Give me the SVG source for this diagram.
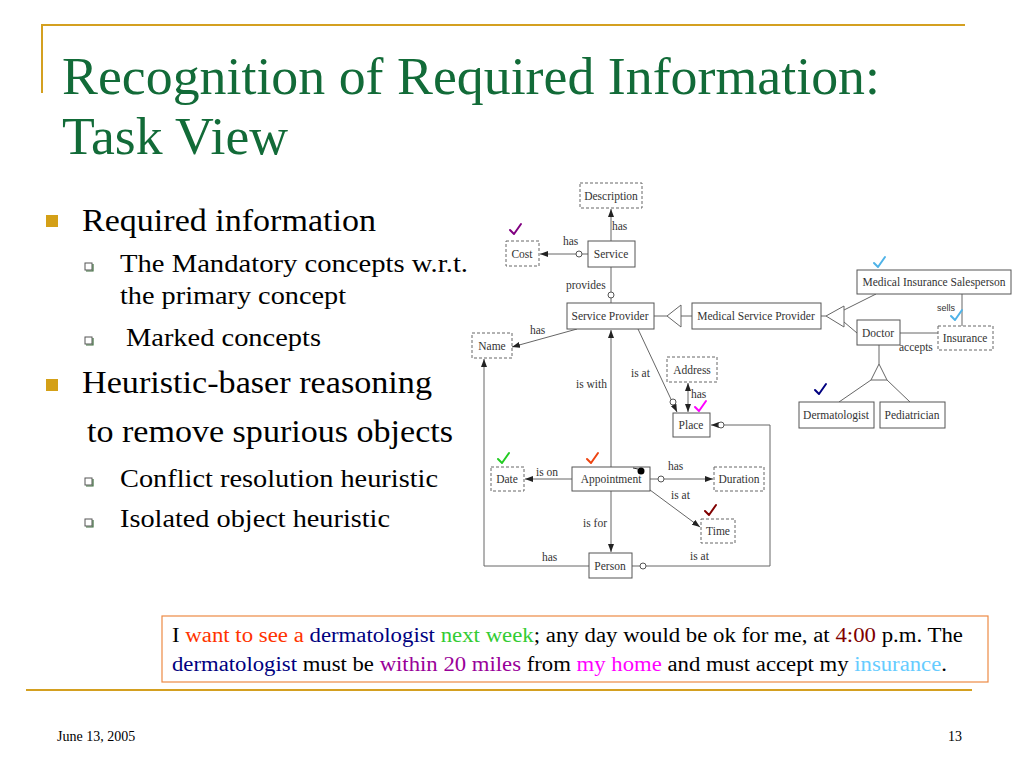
<svg xmlns="http://www.w3.org/2000/svg" width="1024" height="768" viewBox="0 0 1024 768">
<style>
.title{font-family:"Liberation Serif",serif;font-size:53px;fill:#126b38}
.b1{font-family:"Liberation Serif",serif;font-size:31px;fill:#000}
.b2{font-family:"Liberation Serif",serif;font-size:26px;fill:#000}
.box{font-family:"Liberation Serif",serif;font-size:20px;fill:#000}
.foot{font-family:"Liberation Serif",serif;font-size:14px;fill:#000}
.nd{fill:#fff;stroke:#555;stroke-width:1}
.nd-d{fill:#fff;stroke:#666;stroke-width:1;stroke-dasharray:3 2}
.nt{font-family:"Liberation Serif",serif;font-size:11.5px;fill:#333;text-anchor:middle}
.el{font-family:"Liberation Serif",serif;font-size:11.5px;fill:#333}
.ln{fill:none;stroke:#666;stroke-width:1}
.ci{fill:#fff;stroke:#555;stroke-width:1}
.tri{fill:#fff;stroke:#666;stroke-width:1}
.ck{fill:none;stroke-width:2;stroke-linecap:round;stroke-linejoin:round}
.gold{stroke:#d4a020;stroke-width:2;fill:none}
</style>
<defs>
<marker id="arr" viewBox="0 0 8 6" refX="8" refY="3" markerWidth="8" markerHeight="6" markerUnits="userSpaceOnUse" orient="auto-start-reverse">
<path d="M0,0 L8,3 L0,6 z" fill="#222"/>
</marker>
<path id="ck" d="M-5,0 L-1,4 L6,-6"/>
<g id="sb"><rect x="0" y="0" width="7" height="7" fill="#fff" stroke="#555" stroke-width="1"/><path d="M1,8 L8,8 L8,1" stroke="#3f6b3f" stroke-width="1.2" fill="none"/></g>
</defs>
<rect width="1024" height="768" fill="#fff"/>

<!-- frame lines -->
<path class="gold" d="M42,93 L42,25 L965,25"/>
<line class="gold" x1="26" y1="690" x2="972" y2="690" stroke-width="2.5"/>

<!-- title -->
<text class="title" x="62" y="94" textLength="818" lengthAdjust="spacingAndGlyphs">Recognition of Required Information:</text>
<text class="title" x="62" y="154" textLength="226" lengthAdjust="spacingAndGlyphs">Task View</text>

<!-- bullets -->
<rect x="46" y="215" width="12" height="12" fill="#d4a017"/>
<text class="b1" x="82" y="231" textLength="294" lengthAdjust="spacingAndGlyphs">Required information</text>
<use href="#sb" x="85" y="263"/>
<text class="b2" x="120" y="272" textLength="348" lengthAdjust="spacingAndGlyphs">The Mandatory concepts w.r.t.</text>
<text class="b2" x="120" y="304" textLength="226" lengthAdjust="spacingAndGlyphs">the primary concept</text>
<use href="#sb" x="85" y="337"/>
<text class="b2" x="126" y="346" textLength="195" lengthAdjust="spacingAndGlyphs">Marked concepts</text>
<rect x="46" y="379" width="12" height="12" fill="#d4a017"/>
<text class="b1" x="82" y="393" textLength="350" lengthAdjust="spacingAndGlyphs">Heuristic-baser reasoning</text>
<text class="b1" x="87" y="442" textLength="366" lengthAdjust="spacingAndGlyphs">to remove spurious objects</text>
<use href="#sb" x="85" y="478"/>
<text class="b2" x="120" y="487" textLength="318" lengthAdjust="spacingAndGlyphs">Conflict resolution heuristic</text>
<use href="#sb" x="85" y="519"/>
<text class="b2" x="120" y="527" textLength="270" lengthAdjust="spacingAndGlyphs">Isolated object heuristic</text>

<!-- connectors -->
<g id="connectors">
<line class="ln" x1="611" y1="241" x2="611" y2="209" marker-end="url(#arr)"/>
<line class="ln" x1="588" y1="254" x2="540" y2="254" marker-end="url(#arr)"/>
<circle class="ci" cx="579" cy="254" r="3"/>
<line class="ln" x1="611" y1="267" x2="611" y2="303"/>
<circle class="ci" cx="611" cy="295" r="3"/>
<line class="ln" x1="654" y1="316" x2="667" y2="316"/>
<polygon class="tri" points="667,316 681,305 681,327"/>
<line class="ln" x1="681" y1="316" x2="692" y2="316"/>
<line class="ln" x1="821" y1="316" x2="826" y2="316"/>
<polygon class="tri" points="826,316 844,306 844,327"/>
<line class="ln" x1="844" y1="310" x2="876" y2="294"/>
<line class="ln" x1="844" y1="322" x2="857" y2="333"/>
<line class="ln" x1="962" y1="294" x2="962" y2="326"/>
<line class="ln" x1="900" y1="333" x2="938" y2="333"/>
<line class="ln" x1="879" y1="345" x2="879" y2="364"/>
<polygon class="tri" points="879,364 871,380 887,380"/>
<line class="ln" x1="871" y1="380" x2="839" y2="402"/>
<line class="ln" x1="887" y1="380" x2="910" y2="402"/>
<line class="ln" x1="577" y1="329" x2="512" y2="347" marker-end="url(#arr)"/>
<polyline class="ln" points="589,566 484,566 484,359" marker-end="url(#arr)"/>
<line class="ln" x1="611" y1="467" x2="611" y2="330" marker-end="url(#arr)"/>
<line class="ln" x1="638" y1="329" x2="677" y2="412" marker-end="url(#arr)"/>
<circle class="ci" cx="673" cy="402" r="3"/>
<line class="ln" x1="688" y1="412" x2="688" y2="383" marker-start="url(#arr)" marker-end="url(#arr)"/>
<polyline class="ln" points="632,566 770,566 770,425 711,425" marker-end="url(#arr)"/>
<circle class="ci" cx="643" cy="566" r="3"/>
<circle class="ci" cx="721" cy="425" r="3"/>
<line class="ln" x1="572" y1="479" x2="525" y2="479" marker-end="url(#arr)"/>
<line class="ln" x1="650" y1="479" x2="713" y2="479" marker-end="url(#arr)"/>
<circle class="ci" cx="661" cy="479" r="3"/>
<line class="ln" x1="650" y1="490" x2="700" y2="527" marker-end="url(#arr)"/>
<line class="ln" x1="611" y1="491" x2="611" y2="552" marker-end="url(#arr)"/>
<!-- edge labels -->
<text class="el" x="612" y="230">has</text>
<text class="el" x="563" y="245">has</text>
<text class="el" x="566" y="289">provides</text>
<text class="el" x="937" y="311" style="font-family:'Liberation Sans',sans-serif;font-size:9px">sells</text>
<text class="el" x="899" y="351">accepts</text>
<text class="el" x="530" y="334">has</text>
<text class="el" x="631" y="377">is at</text>
<text class="el" x="576" y="388">is with</text>
<text class="el" x="691" y="398">has</text>
<text class="el" x="536" y="476">is on</text>
<text class="el" x="668" y="470">has</text>
<text class="el" x="671" y="499">is at</text>
<text class="el" x="583" y="527">is for</text>
<text class="el" x="542" y="561">has</text>
<text class="el" x="690" y="560">is at</text>
</g>

<!-- nodes -->
<g id="description"><rect class="nd-d" x="580" y="183" width="62" height="25"/><text class="nt" x="611" y="200">Description</text></g>
<g id="service"><rect class="nd" x="588" y="241" width="47" height="26"/><text class="nt" x="611" y="258">Service</text></g>
<g id="cost"><rect class="nd-d" x="506" y="241" width="33" height="25"/><text class="nt" x="522" y="258">Cost</text></g>
<g id="service-provider"><rect class="nd" x="567" y="303" width="87" height="26"/><text class="nt" x="610" y="320">Service Provider</text></g>
<g id="medical-service-provider"><rect class="nd" x="692" y="303" width="129" height="26"/><text class="nt" x="756" y="320">Medical Service Provider</text></g>
<g id="medical-insurance-salesperson"><rect class="nd" x="857" y="270" width="154" height="24"/><text class="nt" x="934" y="286">Medical Insurance Salesperson</text></g>
<g id="doctor"><rect class="nd" x="857" y="320" width="43" height="25"/><text class="nt" x="878" y="337">Doctor</text></g>
<g id="insurance"><rect class="nd-d" x="938" y="326" width="55" height="24"/><text class="nt" x="965" y="342">Insurance</text></g>
<g id="dermatologist"><rect class="nd" x="799" y="402" width="75" height="26"/><text class="nt" x="836" y="419">Dermatologist</text></g>
<g id="pediatrician"><rect class="nd" x="880" y="402" width="65" height="26"/><text class="nt" x="912" y="419">Pediatrician</text></g>
<g id="name"><rect class="nd-d" x="472" y="333" width="40" height="25"/><text class="nt" x="492" y="350">Name</text></g>
<g id="address"><rect class="nd-d" x="667" y="357" width="50" height="25"/><text class="nt" x="692" y="374">Address</text></g>
<g id="place"><rect class="nd" x="673" y="413" width="37" height="24"/><text class="nt" x="691" y="429">Place</text></g>
<g id="appointment"><rect class="nd" x="572" y="467" width="78" height="24"/><text class="nt" x="611" y="483">Appointment</text><circle cx="641" cy="471" r="3.5" fill="#000"/><line x1="633" y1="468" x2="638" y2="469" stroke="#333" stroke-width="1"/></g>
<g id="date"><rect class="nd-d" x="491" y="467" width="33" height="24"/><text class="nt" x="507" y="483">Date</text></g>
<g id="duration"><rect class="nd-d" x="714" y="467" width="50" height="24"/><text class="nt" x="739" y="483">Duration</text></g>
<g id="time"><rect class="nd-d" x="701" y="519" width="34" height="24"/><text class="nt" x="718" y="535">Time</text></g>
<g id="person"><rect class="nd" x="589" y="553" width="43" height="25"/><text class="nt" x="610" y="570">Person</text></g>

<!-- check marks -->
<g id="checks">
<use href="#ck" class="ck" x="515" y="230" stroke="#800080"/>
<use href="#ck" class="ck" x="879" y="263" stroke="#4fb3e8"/>
<use href="#ck" class="ck" x="956" y="316" stroke="#4fb3e8"/>
<use href="#ck" class="ck" x="820" y="390" stroke="#000080"/>
<use href="#ck" class="ck" x="700" y="407" stroke="#ff00ff"/>
<use href="#ck" class="ck" x="503" y="459" stroke="#22cc22"/>
<use href="#ck" class="ck" x="592" y="459" stroke="#ee4411"/>
<use href="#ck" class="ck" x="710" y="511" stroke="#800000"/>
</g>

<!-- utterance box -->
<g id="utterance">
<rect x="162" y="616" width="826" height="66" fill="#fff" stroke="#ed8a45" stroke-width="1.2"/>
<text class="box" x="172" y="642" textLength="791" lengthAdjust="spacingAndGlyphs">I <tspan fill="#ff3300">want to see a</tspan> <tspan fill="#000080">dermatologist</tspan> <tspan fill="#33cc33">next week</tspan>; any day would be ok for me, at <tspan fill="#800000">4:00</tspan> p.m. The</text>
<text class="box" x="172" y="671" textLength="775" lengthAdjust="spacingAndGlyphs"><tspan fill="#000080">dermatologist</tspan> must be <tspan fill="#990099">within 20 miles</tspan> from <tspan fill="#ff00ff">my home</tspan> and must accept my <tspan fill="#66ccff">insurance</tspan>.</text>
</g>

<!-- footer -->
<text class="foot" x="57" y="741">June 13, 2005</text>
<text class="foot" x="948" y="741">13</text>
</svg>
